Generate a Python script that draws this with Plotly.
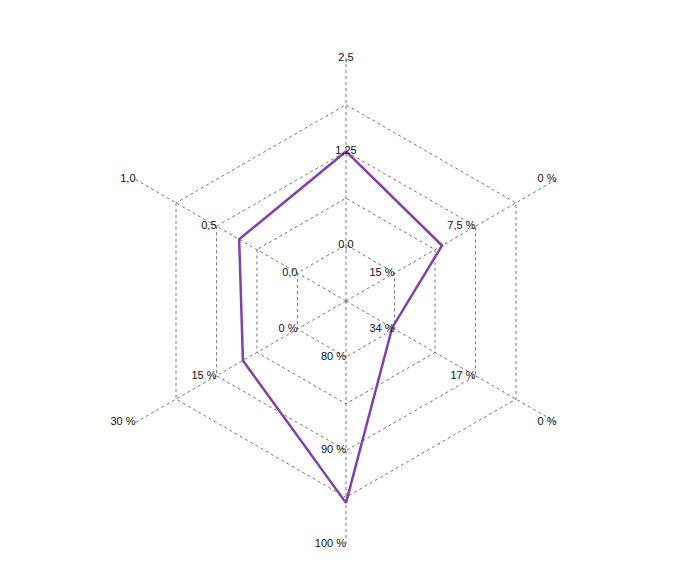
import plotly.graph_objects as go

axes = ["Diversification Ratio", "Volatilität", "Max. Drawdown", "Risikoparität", "Performance 3 Jahre", "Sharpe Ratio"]
axis_min = [0.0, 15.0, 34.0, 80.0, 0.0, 0.0]
axis_max = [2.5, 0.0, 0.0, 100.0, 30.0, 1.0]
values = [1.25, 10.6, 34.5, 95.6, 10.1, 0.36]
tick_labels = [
    ["0,0", "1,25", "2,5"],
    ["15 %", "7,5 %", "0 %"],
    ["34 %", "17 %", "0 %"],
    ["80 %", "90 %", "100 %"],
    ["0 %", "15 %", "30 %"],
    ["0,0", "0,5", "1,0"],
]
tick_fracs = [0, 0.5, 1]
HOLE = 0.3
name_pos = ["top center", "top right", "middle right", "bottom center", "middle left", "top left"]

def norm(v, lo, hi):
    return (v - lo) / (hi - lo) + HOLE

r = [norm(v, lo, hi) for v, lo, hi in zip(values, axis_min, axis_max)]
FONT = dict(family="Liberation Sans Narrow, Liberation Sans, sans-serif", size=11, color="#111")

fig = go.Figure()
fig.add_trace(go.Scatterpolar(r=r + [r[0]], theta=axes + [axes[0]], mode="lines",
                              line=dict(color="#8040a8", width=2.5), hoverinfo="skip"))
for i, ax in enumerate(axes):
    fig.add_trace(go.Scatterpolar(
        r=[f + HOLE for f in tick_fracs], theta=[ax] * 3, mode="text", text=tick_labels[i],
        textposition="middle center" if i == 0 else "middle left",
        textfont=FONT, hoverinfo="skip", cliponaxis=False))
fig.add_trace(go.Scatterpolar(
    r=[1 + HOLE + (0.1 if p in ("top center", "bottom center") else 0.03) for p in name_pos],
    theta=axes, mode="text", text=axes, textposition=name_pos,
    textfont=FONT, hoverinfo="skip", cliponaxis=False))

W, H = 673, 572
cx, cy, R = 338, 293, 243
fig.update_layout(
    width=W, height=H, margin=dict(l=0, r=0, t=0, b=0),
    paper_bgcolor="white", plot_bgcolor="white", showlegend=False,
    font=FONT,
    polar=dict(
        domain=dict(x=[(cx - R) / W, (cx + R) / W], y=[1 - (cy + R) / H, 1 - (cy - R) / H]),
        bgcolor="white", gridshape="linear",
        radialaxis=dict(range=[0, 1 + HOLE], tickvals=[HOLE + t for t in [0, 0.25, 0.5, 0.75, 1]],
                        showticklabels=False, showline=False, ticks="",
                        gridcolor="#777", griddash="dot", gridwidth=1),
        angularaxis=dict(rotation=90, direction="clockwise", showline=False, showticklabels=False,
                         gridcolor="#777", griddash="dot", ticks=""),
    ),
)
fig.write_html("out.html")
